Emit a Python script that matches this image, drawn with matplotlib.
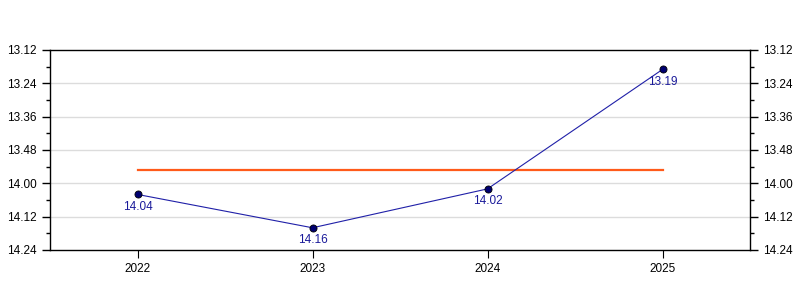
import matplotlib
matplotlib.use("Agg")
import matplotlib.pyplot as plt
from matplotlib.ticker import FuncFormatter, MultipleLocator

plt.rcParams['font.family'] = ['Liberation Sans', 'DejaVu Sans']

years = ["2022", "2023", "2024", "2025"]
times = ["14.04", "14.16", "14.02", "13.19"]  # minutes.seconds

def to_sec(t):
    m, s = t.split(".")
    return int(m) * 60 + int(s)

def fmt(v, pos=None):
    v = int(round(v))
    return f"{v // 60}.{v % 60:02d}"

secs = [to_sec(t) for t in times]
avg = sum(secs) / len(secs)
x = list(range(len(years)))

fig = plt.figure(figsize=(8, 3), dpi=100)
ax = fig.add_axes([50/800, 50/300, 700/800, 200/300])

ax.set_xlim(-0.5, 3.5)
ax.set_ylim(864, 792)

ax.yaxis.set_major_locator(MultipleLocator(12))
ax.yaxis.set_minor_locator(MultipleLocator(6))
ax.yaxis.set_major_formatter(FuncFormatter(fmt))
ax.set_xticks(x)
ax.set_xticklabels(years)

for v in range(804, 864, 12):
    ax.axhline(v, color="#dcdcdc", lw=1, zorder=0)

ax.plot([x[0], x[-1]], [avg, avg], color="#ff5a1a", lw=1.6, zorder=2)
ax.plot(x, secs, color="#2020a8", lw=0.8, zorder=3)
ax.scatter(x, secs, s=26, color="#000070", edgecolors="black", linewidths=0.6, zorder=4)
for xi, s in zip(x, secs):
    ax.annotate(fmt(s), (xi, s), xytext=(0, -4.5), textcoords="offset points",
                ha="center", va="top", color="#1a1a9a", fontsize=8.5)

ax.tick_params(axis="y", which="both", left=True, right=True, labelleft=True, labelright=True,
               labelsize=8.5, direction="out")
ax.tick_params(axis="y", which="major", length=6, width=1)
ax.tick_params(axis="y", which="minor", length=3, width=1)
ax.tick_params(axis="x", labelsize=8.5, length=6, direction="out")
for sp in ax.spines.values():
    sp.set_linewidth(1)

fig.savefig("out.png", dpi=100)
